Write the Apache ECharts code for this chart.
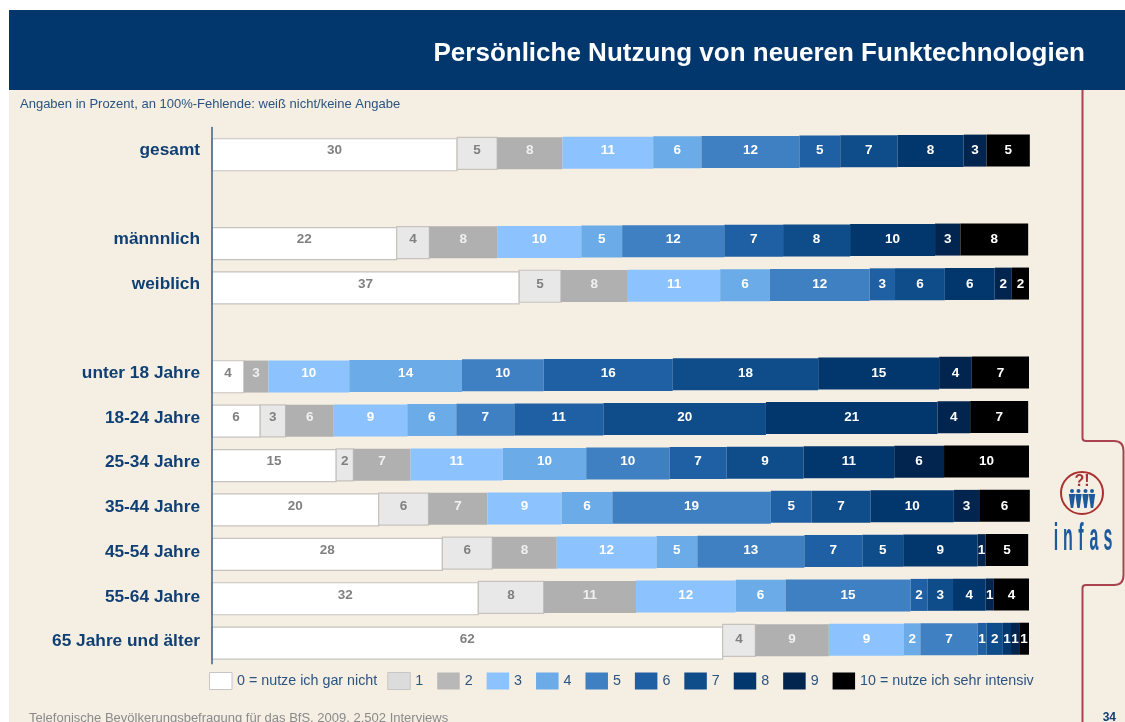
<!DOCTYPE html>
<html><head><meta charset="utf-8">
<style>html,body{margin:0;padding:0;background:#fff}#c{width:1125px;height:722px}</style>
<script src="https://cdn.jsdelivr.net/npm/echarts@6/dist/echarts.min.js"></script>
</head><body><div id="c"></div>
<script>
const categories = ["gesamt","","männnlich","weiblich","","unter 18 Jahre","18-24 Jahre","25-34 Jahre","35-44 Jahre","45-54 Jahre","55-64 Jahre","65 Jahre und älter"];
const levels = ["0 = nutze ich gar nicht","1","2","3","4","5","6","7","8","9","10 = nutze ich sehr intensiv"];
const colors = ["#ffffff","#e8e8e8","#b0b0b0","#8cc3ff","#6aabe8","#3f80c2","#1f5fa3","#0f4c8a","#02376e","#02254f","#000000"];
const legendColors = ["#ffffff","#dcdcdc","#b8b8b8","#8cc3ff","#6aabe8","#3f80c2","#1f5fa3","#0f4c8a","#02376e","#02254f","#000000"];
// segment widths (share of the 100 % bar) and the printed, rounded labels
const gesamtShares  = [30.0,4.9,8.0,11.1,5.9,12.0,5.0,7.0,8.1,2.8,5.3];
const gesamtLabels  = [30,5,8,11,6,12,5,7,8,3,5];
const maennerShares = [22.6,4.0,8.3,10.3,5.0,12.5,7.2,8.2,10.4,3.1,8.3];
const maennerLabels = [22,4,8,10,5,12,7,8,10,3,8];
const frauenShares  = [37.6,5.1,8.2,11.3,6.1,12.2,3.1,6.1,6.1,2.1,2.1];
const frauenLabels  = [37,5,8,11,6,12,3,6,6,2,2];
const u18Shares     = [3.9,0,3.0,9.9,13.8,10.0,15.8,17.8,14.8,4.0,7.0];
const u18Labels     = [4,"",3,10,14,10,16,18,15,4,7];
const a1824Shares   = [5.9,3.1,5.9,9.0,6.0,7.1,10.9,19.9,21.0,4.0,7.1];
const a1824Labels   = [6,3,6,9,6,7,11,20,21,4,7];
const a2534Shares   = [15.2,2.1,7.0,11.3,10.2,10.2,7.0,9.4,11.1,6.1,10.4];
const a2534Labels   = [15,2,7,11,10,10,7,9,11,6,10];
const a3544Shares   = [20.4,6.1,7.2,9.1,6.2,19.4,5.0,7.2,10.2,3.1,6.2];
const a3544Labels   = [20,6,7,9,6,19,5,7,10,3,6];
const a4554Shares   = [28.2,6.1,7.9,12.2,5.0,13.1,7.1,5.0,9.1,1.0,5.2];
const a4554Labels   = [28,6,8,12,5,13,7,5,9,1,5];
const a5564Shares   = [32.6,8.0,11.3,12.2,6.1,15.3,2.1,3.1,4.0,1.0,4.3];
const a5564Labels   = [32,8,11,12,6,15,2,3,4,1,4];
const a65Shares     = [62.5,4.0,9.0,9.2,2.0,7.0,1.1,2.0,1.0,1.0,1.2];
const a65Labels     = [62,4,9,9,2,7,1,2,1,1,1];

const rows = [
  [0,gesamtShares,gesamtLabels],[2,maennerShares,maennerLabels],[3,frauenShares,frauenLabels],
  [5,u18Shares,u18Labels],[6,a1824Shares,a1824Labels],[7,a2534Shares,a2534Labels],
  [8,a3544Shares,a3544Labels],[9,a4554Shares,a4554Labels],[10,a5564Shares,a5564Labels],[11,a65Shares,a65Labels]
];
const seriesData = levels.map(() => []);
rows.forEach(([idx, shares, labels]) => {
  let acc = 0;
  shares.forEach((v, l) => {
    if (v > 0) seriesData[l].push([acc, acc + v, idx, labels[l]]);
    acc += v;
  });
});

const navy = "#02376e", textBlue = "#2b5480", red = "#a8434f";

function renderer(level) {
  return function (params, api) {
    const row = api.value(2);
    const a = api.coord([api.value(0), row]);
    const b = api.coord([api.value(1), row]);
    // the scanned slide is slightly skewed: bars climb to the right
    const dy = 5 - 0.3 * row - 4.5 * api.value(0) / 100;
    const h = 32;
    const boxed = level < 2;
    return {
      type: "group",
      children: [
        { type: "rect",
          shape: { x: a[0], y: a[1] + dy - h / 2, width: b[0] - a[0], height: h },
          style: { fill: colors[level], stroke: boxed ? "#c6c2be" : null, lineWidth: boxed ? 1.2 : 0 } },
        { type: "text",
          style: { x: (a[0] + b[0]) / 2, y: a[1] + 0.8 - 0.25 * row, text: String(api.value(3)),
            align: "center", verticalAlign: "middle",
            font: "bold 13.5px 'Liberation Sans', Arial, sans-serif",
            fill: boxed ? "#808080" : (level === 2 ? "#f0f0f0" : "#ffffff") },
          z2: 5 }
      ]
    };
  };
}

const series = levels.map((name, l) => ({
  type: "custom", name, clip: false,
  renderItem: renderer(l),
  encode: { x: [0, 1], y: 2 },
  itemStyle: { color: colors[l] },
  silent: true, animation: false,
  data: seriesData[l]
}));

const redLine = { stroke: red, lineWidth: 2, fill: null };
const logoLetters = [["i",1056],["n",1068],["f",1081],["a",1094],["s",1108]];
const graphics = [
  { type:"rect", z:-10, shape:{x:9,y:10,width:1116,height:712}, style:{fill:"#f5eee3"} },
  { type:"rect", z:-9, shape:{x:9,y:10,width:1116,height:80}, style:{fill:navy} },
  { type:"text", z:5, style:{x:1085,y:53.5,text:"Persönliche Nutzung von neueren Funktechnologien",align:"right",verticalAlign:"middle",font:"bold 26px 'Liberation Sans', Arial, sans-serif",fill:"#fff"} },
  { type:"text", z:5, style:{x:20,y:104.5,text:"Angaben in Prozent, an 100%-Fehlende: weiß nicht/keine Angabe",verticalAlign:"middle",font:"13px 'Liberation Sans', Arial, sans-serif",fill:textBlue} },
  { type:"text", z:5, style:{x:29,y:718,text:"Telefonische Bevölkerungsbefragung für das BfS, 2009, 2.502 Interviews",verticalAlign:"middle",font:"13px 'Liberation Sans', Arial, sans-serif",fill:"#8a8a8a"} },
  { type:"text", z:5, style:{x:1116,y:717.5,text:"34",align:"right",verticalAlign:"middle",font:"bold 12px 'Liberation Sans', Arial, sans-serif",fill:"#0f3f73"} },
  { type:"polyline", z:3, shape:{points:[[1082.5,90],[1082.5,438]]}, style:redLine },
  { type:"bezierCurve", z:3, shape:{x1:1082.5,y1:438,cpx1:1082.5,cpy1:441,x2:1086,y2:441}, style:redLine },
  { type:"polyline", z:3, shape:{points:[[1086,441],[1114,441]]}, style:redLine },
  { type:"bezierCurve", z:3, shape:{x1:1114,y1:441,cpx1:1123.5,cpy1:441,x2:1123.5,y2:451}, style:redLine },
  { type:"polyline", z:3, shape:{points:[[1123.5,451],[1123.5,575]]}, style:redLine },
  { type:"bezierCurve", z:3, shape:{x1:1123.5,y1:575,cpx1:1123.5,cpy1:585,x2:1114,y2:585}, style:redLine },
  { type:"polyline", z:3, shape:{points:[[1114,585],[1086,585]]}, style:redLine },
  { type:"bezierCurve", z:3, shape:{x1:1086,y1:585,cpx1:1082.5,cpy1:585,x2:1082.5,y2:588}, style:redLine },
  { type:"polyline", z:3, shape:{points:[[1082.5,588],[1082.5,722]]}, style:redLine },
  { type:"circle", z:3, shape:{cx:1082,cy:493,r:21}, style:{fill:"none",stroke:"#a8322f",lineWidth:2} },
  { type:"text", z:4, style:{x:1082,y:482,text:"?!",align:"center",verticalAlign:"middle",font:"bold 16px 'Liberation Sans', Arial, sans-serif",fill:"#a8322f"} }
];
[1072,1078.5,1085.5,1092].forEach(x => {
  graphics.push({ type:"circle", z:4, shape:{cx:x,cy:491,r:2}, style:{fill:"#1c5a9c"} });
  graphics.push({ type:"polygon", z:4, shape:{points:[[x-3.2,494],[x+3.2,494],[x+1.2,508],[x-1.2,508]]}, style:{fill:"#1c5a9c"} });
});
logoLetters.forEach(([ch, x]) => {
  graphics.push({ type:"text", z:4, x, y:559, scaleY:2.4, scaleX:1,
    style:{x:0,y:0,text:ch,align:"center",verticalAlign:"bottom",font:"bold 16px 'Liberation Sans', Arial, sans-serif",fill:"#1c5a9c"} });
});

const chart = echarts.init(document.getElementById("c"), null, { renderer: "canvas" });
chart.setOption({
  animation: false,
  backgroundColor: "#ffffff",
  graphic: graphics,
  grid: { left: 212, width: 817, top: 127.4, height: 536.4, containLabel: false },
  xAxis: { type: "value", min: 0, max: 100, show: false },
  yAxis: { type: "category", inverse: true, data: categories, z: 10,
    axisTick: { show: false },
    axisLine: { lineStyle: { color: "#3a6288", width: 1.5 } },
    axisLabel: { interval: 0, margin: 12, fontSize: 17.3, fontWeight: "bold", color: "#0f3f73", fontFamily: "'Liberation Sans', Arial, sans-serif" } },
  legend: { left: 209, top: 672, padding: 0, itemWidth: 22.5, itemHeight: 17, itemGap: 10, icon: "rect",
    textStyle: { fontSize: 14.3, color: textBlue, fontFamily: "'Liberation Sans', Arial, sans-serif" },
    selectedMode: false,
    formatter: name => name.length < 3 ? name + "\u00a0" : name,
    data: levels.map((name, l) => ({ name,
      itemStyle: { color: legendColors[l], borderColor: l < 2 ? "#c6c6c6" : legendColors[l], borderWidth: l < 2 ? 1 : 0 } })) },
  series
});
</script></body></html>
